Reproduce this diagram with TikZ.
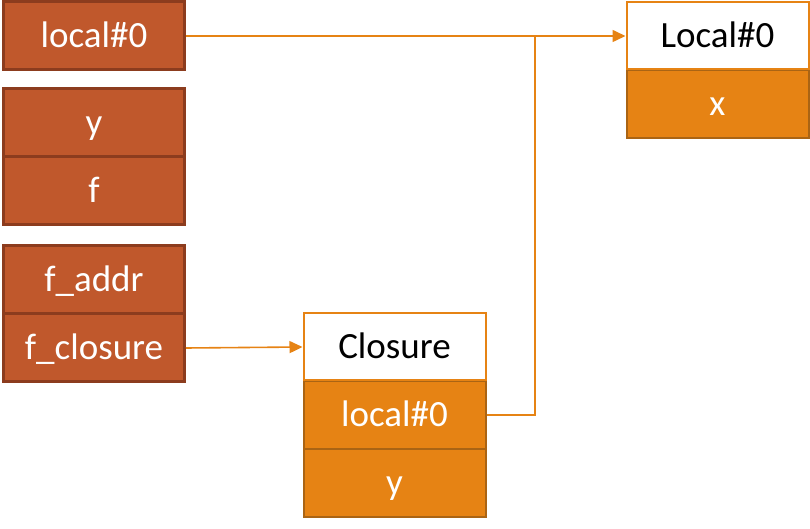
\documentclass[tikz,border=0pt]{standalone}
\usepackage{fontspec}
\setmainfont{Carlito}
\usetikzlibrary{arrows.meta,positioning,shapes}
\definecolor{rust}{RGB}{192,88,44}
\definecolor{rustline}{RGB}{140,60,30}
\definecolor{amber}{RGB}{230,131,20}
\definecolor{amberline}{RGB}{170,100,20}

\begin{document}
\begin{tikzpicture}[x=0.5pt,y=-0.5pt,
  every node/.style={text height=14.5pt,text depth=2.5pt,font=\fontsize{18.5}{20}\selectfont},
  slot/.style={draw=rustline,fill=rust,line width=1.5pt,text=white,minimum width=90.5pt,minimum height=34pt},
  head/.style={draw=amber,fill=white,line width=1pt,minimum width=91pt,minimum height=33.5pt},
  cell/.style={draw=amberline,fill=amber,line width=1pt,text=white,minimum width=91pt,minimum height=34pt},
  ptr/.style={-{Triangle[length=6.5pt,width=6pt]},draw=amber,line width=0.8pt}]
\useasboundingbox (0,0) rectangle (810,529);
\node[slot] (s0) at (94,36) {local\#0};
\node[slot] (s1) at (94,123) {y};
\node[slot] (s2) at (94,191) {f};
\node[slot] (s3) at (94,280) {f\_addr};
\node[slot] (s4) at (94,348) {f\_closure};
\node[cell] (c1) at (394.5,415) {local\#0};
\node[cell] (c2) at (394.5,483) {y};
\node[head] (c0) at (394.5,347) {Closure};
\node[cell] (l1) at (717.5,104) {x};
\node[head] (l0) at (717.5,36) {Local\#0};
\coordinate (jn) at (535,35.5);
\draw[ptr] (s0.east) -- (l0.west);
\draw[ptr] (s4.east) -- (c0.west);
\draw[draw=amber,line width=0.8pt] (c1.east) -| (jn);
\end{tikzpicture}
\end{document}
